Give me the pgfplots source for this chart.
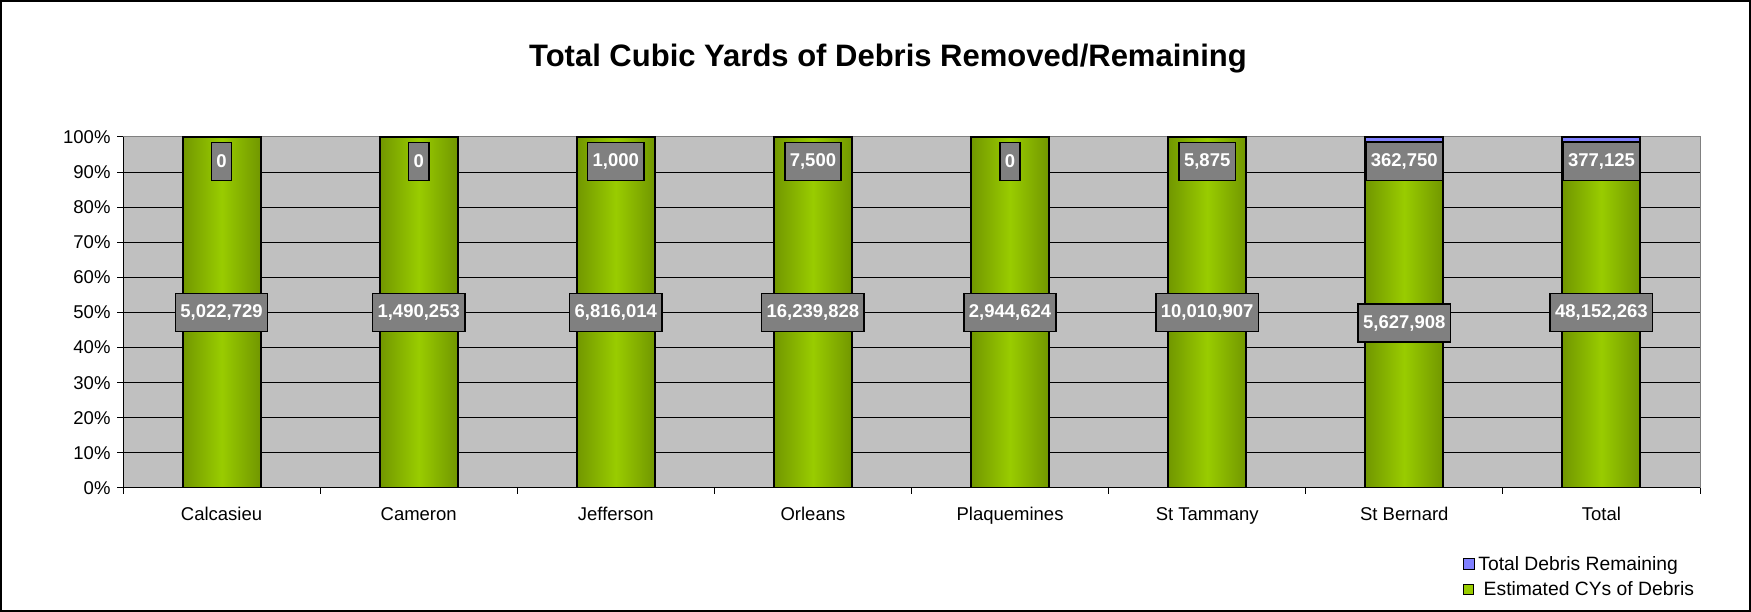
\documentclass[border=0pt]{standalone}
\usepackage{pgfplots}
\pgfplotsset{compat=1.18}
\usepackage{pgfplotstable}
\usepackage{fontspec}
\setmainfont{Liberation Sans}
\definecolor{barlight}{RGB}{153,204,0}
\definecolor{bardark}{RGB}{74,98,0}
\definecolor{plotgray}{RGB}{192,192,192}
\definecolor{labgray}{RGB}{128,128,128}
\definecolor{remblue}{RGB}{128,128,255}
\pgfdeclarehorizontalshading{barshade}{100bp}{color(0bp)=(bardark); color(50bp)=(barlight); color(100bp)=(bardark)}
\newcommand\lab{\fontsize{18.5bp}{22bp}\selectfont}

\pgfplotstableread{
x est rem
0 100 0
1 100 0
2 99.985 0.015
3 99.95 0.05
4 100 0
5 99.94 0.06
6 98.7 1.3
7 98.5 1.5
}\bardata

\pgfplotstableread{
x y lab
0 50 5,022,729
1 50 1,490,253
2 50 6,816,014
3 50 16,239,828
4 50 2,944,624
5 50 10,010,907
6 47 5,627,908
7 50 48,152,263
}\estlabels

\pgfplotstableread{
x y lab
0 93 0
1 93 0
2 93 1,000
3 93 7,500
4 93 0
5 93 5,875
6 93 362,750
7 93 377,125
}\remlabels

\begin{document}
\begin{tikzpicture}[x=1bp,y=1bp]
\useasboundingbox (0,0) rectangle (1751,612);
\draw[line width=2bp,black] (1,1) rectangle (1750,611);
\node[anchor=base,font=\fontsize{31bp}{36bp}\selectfont\bfseries] at (888,545) {Total Cubic Yards of Debris Removed/Remaining};

% main axis: stacked data, grid, ticks, legend
\begin{axis}[
  at={(123bp,124bp)}, anchor=south west,
  scale only axis, width=1577bp, height=351bp,
  ybar stacked, bar width=78bp,
  xmin=-0.5, xmax=7.5, ymin=0, ymax=100,
  axis background/.style={fill=plotgray},
  axis line style={draw=labgray, line width=1bp},
  xtick={-0.5,0.5,...,7.5},
  x tick label as interval,
  xticklabels={Calcasieu,Cameron,Jefferson,Orleans,Plaquemines,St Tammany,St Bernard,Total},
  xticklabel style={yshift=-10bp},
  ytick={0,10,...,100},
  yticklabel={\pgfmathprintnumber{\tick}\%},
  yticklabel style={xshift=-3bp},
  /pgf/number format/assume math mode=true,
  tick pos=left, tick align=outside,
  major tick length=6bp,
  tick style={black, line width=1bp},
  tick label style={font=\lab},
  extra y ticks={10,20,...,90},
  extra y tick labels={},
  extra y tick style={ymajorgrids=true, major tick length=0pt},
  major grid style={black, line width=0.9bp},
  reverse legend,
  legend style={at={(0.8497,-0.189)}, anchor=north west, draw=none, fill=none,
    inner sep=0pt, font=\fontsize{19.3bp}{23bp}\selectfont, row sep=6bp, cells={anchor=west},
    /tikz/every odd column/.append style={column sep=1bp}},
]
\addplot[fill=barlight, draw=black, line width=2bp,
  legend image code/.code={\draw[fill=barlight,draw=black,line width=1.2bp] (0bp,-5bp) rectangle (10bp,5bp);}]
  table[x=x,y=est] {\bardata};
\addlegendentry{\ Estimated CYs of Debris}
\addplot[fill=remblue, draw=black, line width=2bp,
  legend image code/.code={\draw[fill=remblue,draw=black,line width=1.2bp] (0bp,-5.5bp) rectangle (11bp,5.5bp);}]
  table[x=x,y=rem] {\bardata};
\addlegendentry{Total Debris Remaining}
\draw[black,line width=1.5bp] (rel axis cs:0,1) -- (rel axis cs:0,0) -- (rel axis cs:1,0);
\end{axis}

% overlay: each green bar with its own cylinder-like shading
\begin{axis}[
  at={(123bp,124bp)}, anchor=south west,
  scale only axis, width=1577bp, height=351bp,
  ybar, bar width=78bp, bar shift=0pt,
  xmin=-0.5, xmax=7.5, ymin=0, ymax=100,
  hide axis,
]
\pgfplotsinvokeforeach{0,...,7}{
  \addplot[shade, shading=barshade, draw=black, line width=2bp, restrict x to domain=#1:#1]
    table[x=x,y=est] {\bardata};
}
\end{axis}

% data labels
\begin{axis}[
  at={(123bp,124bp)}, anchor=south west,
  scale only axis, width=1577bp, height=351bp,
  xmin=-0.5, xmax=7.5, ymin=0, ymax=100,
  hide axis, clip=false,
]
\addplot[draw=none, nodes near coords, point meta=explicit symbolic,
  every node near coord/.append style={anchor=center, fill=labgray, draw=black, line width=1.5bp,
    text=white, font=\lab\bfseries, inner xsep=5bp, inner ysep=0pt, minimum height=38bp}]
  table[x=x,y=y,meta=lab] {\estlabels};
\addplot[draw=none, nodes near coords, point meta=explicit symbolic,
  every node near coord/.append style={anchor=center, fill=labgray, draw=black, line width=1.5bp,
    text=white, font=\lab\bfseries, inner xsep=5bp, inner ysep=0pt, minimum height=38bp}]
  table[x=x,y=y,meta=lab] {\remlabels};
\end{axis}
\end{tikzpicture}
\end{document}
